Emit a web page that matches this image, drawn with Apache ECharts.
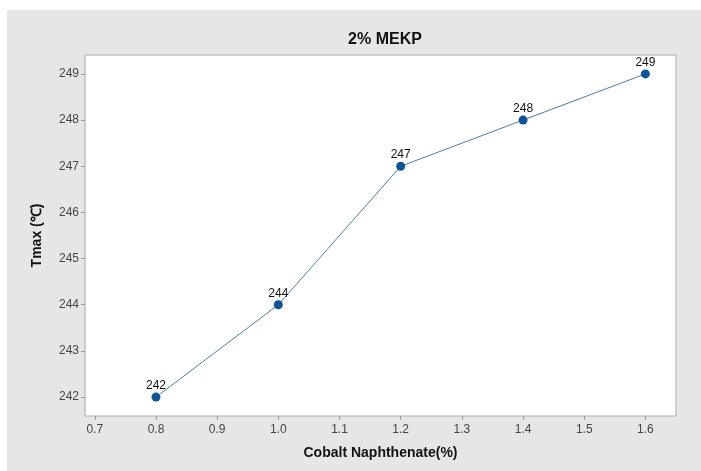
<!DOCTYPE html>
<html><head><meta charset="utf-8">
<script src="https://cdn.jsdelivr.net/npm/echarts@6/dist/echarts.min.js"></script>
<style>html,body{margin:0;padding:0;background:#fff}#c{width:701px;height:471px}</style>
</head><body><div id="c"></div>
<script>
const cobalt = [0.8, 1.0, 1.2, 1.4, 1.6];
const tmax = [242, 244, 247, 248, 249];
const xTicks = [0.7, 0.8, 0.9, 1.0, 1.1, 1.2, 1.3, 1.4, 1.5, 1.6];
const yTicks = [242, 243, 244, 245, 246, 247, 248, 249];

const chart = echarts.init(document.getElementById('c'), null, {renderer: 'canvas'});
chart.setOption({
  animation: false,
  backgroundColor: '#ffffff',
  graphic: [{type: 'rect', z: -10, shape: {x: 7, y: 10, width: 701, height: 471}, style: {fill: '#e6e6e6'}}],
  title: {text: '2% MEKP', left: 380, top: 27, textAlign: 'center',
    textStyle: {fontFamily: 'Arial, Liberation Sans', fontWeight: 'bold', fontSize: 16, color: '#111'}},
  grid: {left: 85, top: 55, right: 25, bottom: 55, show: true, backgroundColor: '#ffffff', borderColor: '#aaaaaa', borderWidth: 1},
  xAxis: {type: 'value', min: 0.684, max: 1.65,
    name: 'Cobalt Naphthenate(%)', nameLocation: 'middle', nameGap: 30,
    nameTextStyle: {fontFamily: 'Arial, Liberation Sans', fontWeight: 'bold', fontSize: 14, color: '#111'},
    axisLine: {show: false}, splitLine: {show: false},
    axisTick: {show: true, inside: false, length: 4, customValues: xTicks, lineStyle: {color: '#999'}},
    axisLabel: {customValues: xTicks, formatter: v => v.toFixed(1), margin: 8,
      fontFamily: 'Arial, Liberation Sans', fontSize: 12, color: '#444'}},
  yAxis: {type: 'value', min: 241.59, max: 249.41,
    name: 'Tmax (℃)', nameLocation: 'middle', nameGap: 41, nameRotate: 90,
    nameTextStyle: {fontFamily: 'Arial, Liberation Sans', fontWeight: 'bold', fontSize: 14, color: '#111'},
    axisLine: {show: false}, splitLine: {show: false},
    axisTick: {show: true, inside: false, length: 4, customValues: yTicks, lineStyle: {color: '#999'}},
    axisLabel: {customValues: yTicks, margin: 6,
      fontFamily: 'Arial, Liberation Sans', fontSize: 12, color: '#444'}},
  series: [{type: 'line', data: cobalt.map((x, i) => [x, tmax[i]]),
    symbol: 'circle', symbolSize: 9,
    lineStyle: {color: '#4a7f9e', width: 1},
    itemStyle: {color: '#0d5597'},
    label: {show: true, position: 'top', distance: 1, fontFamily: 'Liberation Sans Narrow, Arial Narrow, Arial', fontSize: 12, color: '#111',
      formatter: p => p.value[1]}}]
});
</script></body></html>
